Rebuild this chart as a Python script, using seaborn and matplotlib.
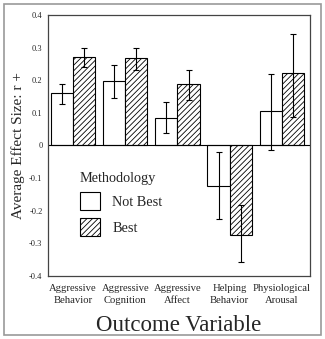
import matplotlib
matplotlib.use("Agg")
import matplotlib.pyplot as plt
import seaborn as sns
import pandas as pd
import numpy as np
from matplotlib.patches import Rectangle

categories = ["Aggressive\nBehavior", "Aggressive\nCognition", "Aggressive\nAffect", "Helping\nBehavior", "Physiological\nArousal"]
groups = ["Not Best", "Best"]
not_best = [0.160, 0.197, 0.085, -0.125, 0.105]
best = [0.271, 0.267, 0.189, -0.275, 0.222]
not_best_lo = [0.128, 0.145, 0.037, -0.225, -0.015]
not_best_hi = [0.190, 0.247, 0.133, -0.020, 0.220]
best_lo = [0.240, 0.230, 0.140, -0.357, 0.088]
best_hi = [0.300, 0.300, 0.230, -0.183, 0.342]
yticks = [0.4, 0.3, 0.2, 0.1, 0, -0.1, -0.2, -0.3, -0.4]
ytick_labels = ["0.4", "0.3", "0.2", "0.1", "0", "-0.1", "-0.2", "-0.3", "-0.4"]

sns.set_style("white")
plt.rcParams['font.family'] = ['Liberation Serif', 'DejaVu Serif']
plt.rcParams['hatch.color'] = '#777777'
plt.rcParams['hatch.linewidth'] = 0.6

df = pd.DataFrame({
    "cat": categories * 2,
    "grp": [groups[0]] * 5 + [groups[1]] * 5,
    "val": not_best + best,
})

fig = plt.figure(figsize=(3.25, 3.39), dpi=100)
ax = fig.add_axes([0.1477, 0.1858, 0.954 - 0.1477, 0.9558 - 0.1858])

sns.barplot(data=df, x="cat", y="val", hue="grp", hue_order=groups, order=categories,
            palette=["white", "white"], edgecolor="black", linewidth=0.8,
            errorbar=None, width=0.85, ax=ax, legend=True)

containers = list(ax.containers)[:2]
for i, cont in enumerate(containers):
    lo = not_best_lo if i == 0 else best_lo
    hi = not_best_hi if i == 0 else best_hi
    vals = not_best if i == 0 else best
    for j, bar in enumerate(cont.patches):
        if i == 1:
            bar.set_hatch("//////")
        cx = bar.get_x() + bar.get_width() / 2
        ax.errorbar(cx, vals[j], yerr=[[vals[j] - lo[j]], [hi[j] - vals[j]]],
                    fmt="none", ecolor="black", elinewidth=0.8, capsize=2, capthick=0.8)

ax.axhline(0, color="black", lw=0.8)
ax.set_xlim(-0.48, 4.54)
ax.set_ylim(-0.4, 0.4)
ax.set_yticks(yticks)
ax.set_yticklabels(ytick_labels, fontsize=6)
ax.set_xticks(range(5))
ax.set_xticklabels(categories, fontsize=7.7, linespacing=1.35)
ax.tick_params(axis="both", direction="inout", length=4, width=0.8, color="#333333", pad=2)
ax.tick_params(axis="x", pad=4)
for s in ax.spines.values():
    s.set_color("#444444")
    s.set_linewidth(0.9)
ax.set_xlabel("Outcome Variable", fontsize=16.5, labelpad=7)
ax.set_ylabel("Average Effect Size: r +", fontsize=11, labelpad=3)

handles, labels = ax.get_legend_handles_labels()
handles[1].set_hatch("//////")
leg = ax.legend(handles, labels, title="Methodology", loc="upper left",
                bbox_to_anchor=(0.122, 0.40), frameon=False, fontsize=10.3,
                title_fontsize=10.3, handlelength=1.4, handleheight=1.55,
                labelspacing=0.55, handletextpad=0.85, borderaxespad=0, borderpad=0)
leg._legend_box.align = "left"
for h in leg.legend_handles:
    h.set_edgecolor("black")
    h.set_linewidth(0.8)

fig.patches.append(Rectangle((4 / 325, 4 / 339), 317 / 325, 331 / 339, transform=fig.transFigure,
                             fill=False, edgecolor="#999999", lw=1.2))

fig.savefig("out.png", dpi=100)
